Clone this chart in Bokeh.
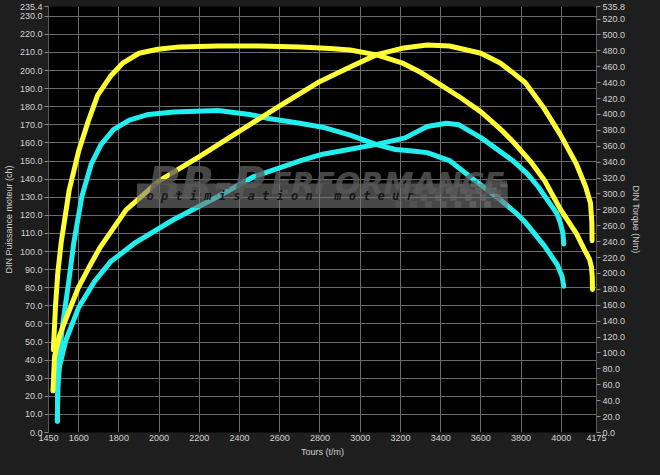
import numpy as np
from bokeh.plotting import figure
from bokeh.models import Range1d, LinearAxis, FixedTicker, NumeralTickFormatter, BoxAnnotation, Label
from bokeh.embed import file_html
from bokeh.resources import INLINE

# ---------------- data ----------------
rpm_ticks = [1450, 1600, 1800, 2000, 2200, 2400, 2600, 2800, 3000, 3200, 3400, 3600, 3800, 4000, 4175]
power_ticks = [0, 10, 20, 30, 40, 50, 60, 70, 80, 90, 100, 110, 120, 130, 140, 150, 160, 170, 180, 190,
               200, 210, 220, 230, 235.4]
torque_ticks = [0, 20, 40, 60, 80, 100, 120, 140, 160, 180, 200, 220, 240, 260, 280, 300, 320, 340, 360,
                380, 400, 420, 440, 460, 480, 500, 520, 535.8]

# yellow - torque (Nm)
y_torque_rpm = [1474, 1485, 1496, 1513, 1553, 1600, 1647, 1694, 1758, 1821, 1900, 1994, 2102, 2292, 2500,
                2700, 2850, 2950, 3082, 3207, 3300, 3396, 3500, 3602, 3700, 3759, 3850, 3917, 3995, 4075,
                4121, 4140, 4150, 4154, 4155]
y_torque_nm = [104, 160, 200, 239, 305, 354, 391, 424, 448, 465, 477, 482, 485, 486, 486,
               485, 483, 481, 475, 465, 453, 438, 421, 403, 381, 366, 340, 317, 281, 250,
               227, 218, 208, 195, 180]

# yellow - power (ch)
y_power_rpm = [1472, 1480, 1503, 1527, 1598, 1650, 1705, 1836, 2000, 2200, 2400, 2600, 2800, 2950,
               3082, 3207, 3333, 3444, 3600, 3696, 3757, 3820, 3915, 3995, 4075, 4121, 4145, 4152, 4153]
y_power_ch = [23, 42, 53, 60, 80, 91, 102, 123, 139, 152.5, 166.5, 180.5, 194, 202,
              208.8, 212.3, 214.1, 213.6, 209.6, 204.2, 199, 193.4, 179, 164.6, 148.4, 135.8, 126.8, 116, 106]

# cyan - torque (Nm)
c_torque_rpm = [1494, 1496, 1497, 1521, 1553, 1576, 1616, 1663, 1711, 1773, 1852, 1947, 2073, 2293, 2450,
                2545, 2700, 2813, 2950, 3082, 3176, 3260, 3333, 3444, 3570, 3696, 3775, 3822, 3915, 3980,
                4004, 4012]
c_torque_nm = [14, 50, 83, 137, 194, 239, 297, 338, 362, 381, 393, 400, 403, 405, 400,
               395, 389, 384, 374, 362, 356, 354, 352, 342, 317, 293, 276, 264, 235, 211,
               196, 184]

# cyan - power (ch)
c_power_rpm = [1494, 1496, 1505, 1537, 1600, 1679, 1758, 1884, 2073, 2293, 2467, 2704, 2813, 2950, 3082,
               3223, 3333, 3428, 3491, 3602, 3759, 3830, 3885, 3940, 3978, 3995, 4008, 4012]
c_power_ch = [6.2, 25, 36.6, 51.1, 69.1, 83.5, 94.3, 105.1, 117.7, 130.4, 141.2, 150.2, 153.8, 156.5, 159.2,
              162.8, 169.1, 170.9, 170, 162.8, 150.2, 143, 135.8, 127, 121, 116, 110, 104.2]

# ---------------- style ----------------
BG = "#1e1e1e"
TXT = "#d2d2d2"
GRID = "#6a6a6a"
YELLOW = "#ffff33"
CYAN = "#22eeee"
FONT = "Liberation Sans"

p = figure(width=644, height=459, output_backend="svg", toolbar_location=None,
           x_range=Range1d(1450, 4175), y_range=Range1d(0, 235.4),
           background_fill_color="black", border_fill_color=BG,
           min_border_left=10, min_border_right=10, min_border_top=6, min_border_bottom=10)
p.outline_line_color = None
p.extra_y_ranges = {"torque": Range1d(0, 535.8)}

# axes
p.xaxis.ticker = FixedTicker(ticks=rpm_ticks)
p.yaxis.ticker = FixedTicker(ticks=power_ticks)
p.yaxis.formatter = NumeralTickFormatter(format="0.0")
p.xaxis.axis_label = "Tours (t/m)"
p.yaxis.axis_label = "DIN Puissance moteur (ch)"

raxis = LinearAxis(y_range_name="torque", ticker=FixedTicker(ticks=torque_ticks),
                   formatter=NumeralTickFormatter(format="0.0"), axis_label="DIN Torque (Nm)")
p.add_layout(raxis, "right")

for ax in [p.xaxis[0], p.yaxis[0], raxis]:
    ax.major_label_text_color = TXT
    ax.major_label_text_font = FONT
    ax.major_label_text_font_size = "9px"
    ax.axis_label_text_color = TXT
    ax.axis_label_text_font = FONT
    ax.axis_label_text_font_size = "9px"
    ax.axis_label_text_font_style = "normal"
    ax.axis_label_standoff = 3
    ax.major_label_standoff = 2
    ax.minor_tick_line_color = None
    ax.major_tick_in = 0
    ax.major_tick_out = 4
    ax.major_tick_line_color = "#8a8a8a"
    ax.axis_line_color = "#5a5a5a"
p.xaxis.major_tick_out = 0
p.xaxis.axis_line_color = None

p.xgrid.grid_line_color = GRID
p.ygrid.grid_line_color = GRID
p.xgrid.grid_line_width = 1
p.ygrid.grid_line_width = 1

# curves
lw = 5
p.line(c_power_rpm, c_power_ch, line_color=CYAN, line_width=lw, line_cap="round", line_join="round")
p.line(c_torque_rpm, c_torque_nm, y_range_name="torque", line_color=CYAN, line_width=lw,
       line_cap="round", line_join="round")
p.line(y_power_rpm, y_power_ch, line_color=YELLOW, line_width=lw, line_cap="round", line_join="round")
p.line(y_torque_rpm, y_torque_nm, y_range_name="torque", line_color=YELLOW, line_width=lw,
       line_cap="round", line_join="round")

# ---------------- watermark (decoration) ----------------
def px_rpm(px):
    return 1450 + (px - 42) / 0.2115

def py_val(py):
    return (444.5 - py) / 1.85

p.add_layout(BoxAnnotation(left=px_rpm(135), right=px_rpm(525), bottom=py_val(215), top=py_val(190),
                           fill_color="#767676", fill_alpha=0.6, line_alpha=0, level="overlay"))
p.add_layout(Label(x=px_rpm(146), y=py_val(190), text="BR-P", text_font="DejaVu Sans",
                   text_font_style="bold italic", text_font_size="44px", text_color="#5a5a5a",
                   text_alpha=0.8, text_baseline="alphabetic", level="overlay"))
p.add_layout(Label(x=px_rpm(276), y=py_val(190), text="ERFORMANCE", text_font="DejaVu Sans",
                   text_font_style="bold italic", text_font_size="30px", text_color="#5a5a5a",
                   text_alpha=0.8, text_baseline="alphabetic", level="overlay"))
wm_text = "\u00a0".join("optimisation") + "\u00a0\u00a0\u00a0" + "\u00a0".join("moteur")
p.add_layout(Label(x=px_rpm(145), y=py_val(203), text=wm_text,
                   text_font="DejaVu Sans Mono", text_font_style="bold italic", text_font_size="12px",
                   text_color="#111111", text_alpha=0.9, text_baseline="middle", level="overlay"))

# checkered flag
ql, qr, qt, qb, qa = [], [], [], [], []
for i in range(4):
    for j in range(15):
        if (i + j) % 2 == 0:
            x0 = 408 + j * 7.8 - i * 3
            y0 = 187 + i * 7
            ql.append(px_rpm(x0)); qr.append(px_rpm(x0 + 7))
            qt.append(py_val(y0)); qb.append(py_val(y0 + 6.5))
            qa.append(0.25 + 0.5 * j / 14)
p.quad(left=ql, right=qr, top=qt, bottom=qb, fill_color="#5a5a5a", fill_alpha=qa, line_alpha=0)

html = file_html(p, INLINE, title="DIN")
html = html.replace("<body>", '<body style="background-color:#1e1e1e;">')
open("out.html", "w").write(html)
